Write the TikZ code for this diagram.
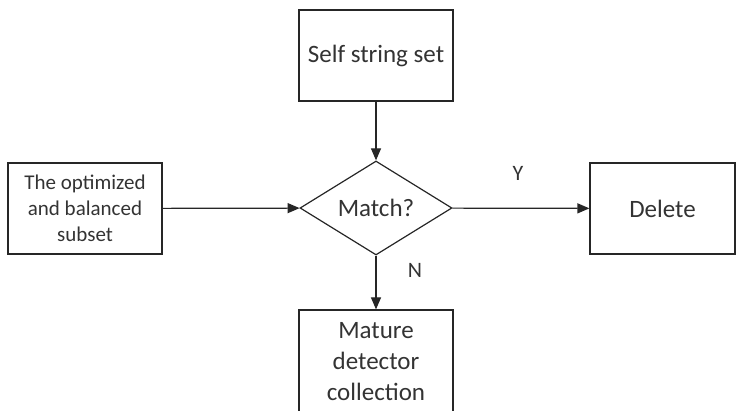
\documentclass[tikz,border=0pt]{standalone}
\usepackage{fontspec}
\setmainfont{Carlito}
\usetikzlibrary{shapes.geometric,arrows.meta}

\tikzset{
  caja/.style={draw=black!85, line width=1.2pt, minimum width=154pt,
    minimum height=91pt, align=center, inner sep=0pt, text=black!80,
    font=\fontsize{25}{31}\selectfont},
  rombo/.style={diamond, draw=black!85, line width=1.2pt, minimum width=152pt,
    minimum height=90pt, inner sep=0pt, text=black!80,
    font=\fontsize{25}{31}\selectfont},
  flecha/.style={-{Triangle[length=12pt,width=10pt]}, line width=1.2pt, draw=black!85},
  etiqueta/.style={text=black!80, font=\fontsize{22}{26}\selectfont}
}

\begin{document}
\begin{tikzpicture}[x=1pt, y=-1pt]

    % Marco de la figura
    \clip (0, 0) rectangle (736, 411);
    \useasboundingbox (0, 0) rectangle (736, 411);

    % Cajas y decision
    \node[caja] (conjunto) at (376, 55.5) {Self string set};
    \node[caja, font=\fontsize{21}{26}\selectfont] (subconjunto) at (85, 208.5)
      {The optimized\\and balanced\\subset};
    \node[rombo] (comparar) at (376, 208) {Match?};
    \node[caja, minimum width=145pt] (borrar) at (662.5, 208.5) {Delete};
    \node[caja, minimum height=104pt] (detectores) at (376, 362)
      {Mature\\detector\\collection};

    % Flechas
    \draw[flecha] (conjunto) -- (comparar);
    \draw[flecha] (subconjunto) -- (comparar);
    \draw[flecha] (comparar) -- (borrar);
    \draw[flecha] (comparar) -- (detectores);

    % Etiquetas de las salidas
    \node[etiqueta] (si) at (518, 173) {Y};
    \node[etiqueta] (no) at (415, 270) {N};

  \end{tikzpicture}
\end{document}
